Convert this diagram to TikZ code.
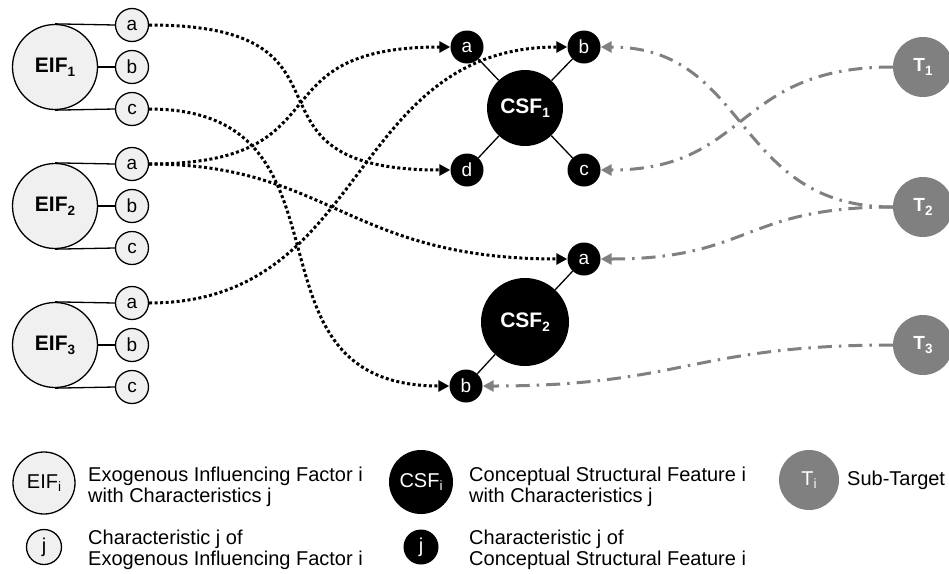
\documentclass[tikz,border=0pt]{standalone}
\usepackage{fontspec}
\setmainfont{Liberation Sans}
\usetikzlibrary{arrows.meta}
\definecolor{eiffill}{HTML}{F0F0F0}
\definecolor{tgray}{HTML}{808080}
\newcommand{\sbs}[1]{\raisebox{-0.35ex}{\fontsize{13.5}{13.5}\selectfont #1}}
\begin{document}
\begin{tikzpicture}[x=1pt,y=-1pt,
  eifbig/.style={circle, draw, line width=1.3pt, fill=eiffill, minimum size=85pt, inner sep=0pt, font=\fontsize{21}{23}\selectfont\bfseries},
  eifsmall/.style={circle, draw, line width=1.3pt, fill=eiffill, minimum size=33pt, inner sep=0pt, font=\fontsize{19}{21}\selectfont},
  csfbig/.style={circle, fill=black, text=white, minimum size=76pt, inner sep=0pt, font=\fontsize{21}{23}\selectfont\bfseries},
  csfsmall/.style={circle, fill=black, text=white, minimum size=33pt, inner sep=0pt, font=\fontsize{19}{21}\selectfont},
  tnode/.style={circle, fill=tgray, text=white, minimum size=60pt, inner sep=0pt, font=\fontsize{19}{21}\selectfont\bfseries},
  link/.style={line width=1.3pt},
  dotarrow/.style={line width=3pt, dash pattern=on 3pt off 2.5pt, -{Triangle[length=11pt,width=11pt]}},
  grayarrow/.style={tgray, line width=3pt, dash pattern=on 14pt off 7pt on 2.5pt off 7pt, -{Triangle[length=11pt,width=11pt]}},
  legtext/.style={anchor=west, align=left, inner sep=0pt, font=\fontsize{20}{21.5}\selectfont}
]
\fill[white] (0,0) rectangle (949,573);
\useasboundingbox (0,0) rectangle (949,573);

% EIF groups
\node[eifbig] (eif1) at (55,67) {EIF\sbs{1}};
\node[eifsmall] (eif1a) at (132,25) {a};
\node[eifsmall] (eif1b) at (132,67) {b};
\node[eifsmall] (eif1c) at (132,109) {c};
\node[eifbig] (eif2) at (55,206) {EIF\sbs{2}};
\node[eifsmall] (eif2a) at (132,164) {a};
\node[eifsmall] (eif2b) at (132,206) {b};
\node[eifsmall] (eif2c) at (132,248) {c};
\node[eifbig] (eif3) at (55,345) {EIF\sbs{3}};
\node[eifsmall] (eif3a) at (132,303) {a};
\node[eifsmall] (eif3b) at (132,345) {b};
\node[eifsmall] (eif3c) at (132,387) {c};
\foreach \i in {1,2,3}{
  \draw[link] (eif\i.north) -- (eif\i a.west);
  \draw[link] (eif\i) -- (eif\i b);
  \draw[link] (eif\i.south) -- (eif\i c.west);
}

% CSF
\node[csfbig] (csf1) at (525,108) {CSF\sbs{1}};
\node[csfsmall] (csf1a) at (467,47) {a};
\node[csfsmall] (csf1b) at (584,47) {b};
\node[csfsmall] (csf1c) at (584,170) {c};
\node[csfsmall] (csf1d) at (467,170) {d};
\draw[link] (csf1) -- (csf1a);
\draw[link] (csf1) -- (csf1b);
\draw[link] (csf1) -- (csf1c);
\draw[link] (csf1) -- (csf1d);
\node[csfbig, minimum size=88pt] (csf2) at (525,322) {CSF\sbs{2}};
\node[csfsmall] (csf2a) at (584,259) {a};
\node[csfsmall] (csf2b) at (466,386) {b};
\draw[link] (csf2) -- (csf2a);
\draw[link] (csf2) -- (csf2b);

% Targets
\node[tnode] (t1) at (923,67) {T\sbs{1}};
\node[tnode] (t2) at (923,207) {T\sbs{2}};
\node[tnode] (t3) at (923,345) {T\sbs{3}};

% dotted connectors
\draw[dotarrow] (eif1a.east) .. controls +(230,0) and +(-230,0) .. (csf1d.west);
\draw[dotarrow] (eif1c.east) .. controls +(220,0) and +(-220,0) .. (csf2b.west);
\draw[dotarrow] (eif2a.east) .. controls +(200,0) and +(-200,0) .. (csf1a.west);
\draw[dotarrow] (eif2a.east) .. controls +(180,0) and +(-220,0) .. (csf2a.west);
\draw[dotarrow] (eif3a.east) .. controls +(220,0) and +(-220,0) .. (csf1b.west);

% gray connectors
\draw[grayarrow] (t1.west) .. controls +(-160,0) and +(150,0) .. (csf1c.east);
\draw[grayarrow] (t2.west) .. controls +(-160,0) and +(150,0) .. (csf1b.east);
\draw[grayarrow] (t2.west) .. controls +(-150,0) and +(150,0) .. (csf2a.east);
\draw[grayarrow] (t3.west) .. controls +(-200,0) and +(200,0) .. (csf2b.east);

% legend
\node[eifbig, minimum size=62pt, font=\fontsize{20}{22}\selectfont] (legeif) at (44,483) {EIF\sbs{i}};
\node[legtext] (legeift) at (88,487) {Exogenous Influencing Factor i\\with Characteristics j};
\node[csfbig, minimum size=64pt, font=\fontsize{20}{22}\selectfont] (legcsf) at (421,482) {CSF\sbs{i}};
\node[legtext] (legcsft) at (469,487) {Conceptual Structural Feature i\\with Characteristics j};
\node[tnode, font=\fontsize{20}{22}\selectfont] (legt) at (809,480) {T\sbs{i}};
\node[legtext] (legtt) at (847,480) {Sub-Target};
\node[eifsmall, minimum size=35pt, font=\fontsize{20}{22}\selectfont] (legj) at (44,547) {j};
\node[legtext] (legjt) at (88,550) {Characteristic j of\\Exogenous Influencing Factor i};
\node[csfsmall, minimum size=35pt, font=\fontsize{20}{22}\selectfont] (legk) at (421,547) {j};
\node[legtext] (legkt) at (469,550) {Characteristic j of\\Conceptual Structural Feature i};
\end{tikzpicture}
\end{document}
